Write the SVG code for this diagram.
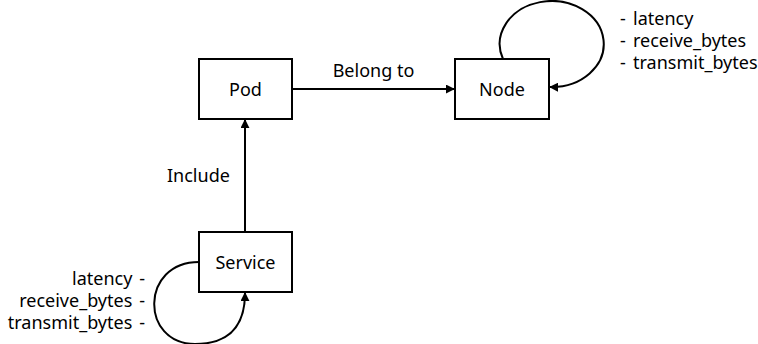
<svg xmlns="http://www.w3.org/2000/svg" width="758" height="344" viewBox="0 0 758 344">
<style>
.box{fill:#fff;stroke:#000;stroke-width:2}
.lbl{font-family:"Noto Sans","Liberation Sans",sans-serif;font-size:18px;fill:#000}
.mid{text-anchor:middle}
.end{text-anchor:end}
.edge{fill:none;stroke:#000;stroke-width:2}
</style>
<defs>
<marker id="ah" viewBox="0 0 10 10" refX="9" refY="5" markerWidth="4.5" markerHeight="4.5" orient="auto" markerUnits="strokeWidth">
<path d="M0,0 L10,5 L0,10 z" fill="#000"/>
</marker>
</defs>
<rect width="758" height="344" fill="#fff"/>
<g id="connectors">
<path class="edge" d="M292,89 L454,89" marker-end="url(#ah)"/>
<path class="edge" d="M245,232 L245,120" marker-end="url(#ah)"/>
<path class="edge" d="M503,59 A52,43 0 1 1 550,87" marker-end="url(#ah)"/>
<path class="edge" d="M199,262 C140,262 140,344 195,344 C235,344 245,320 245,293" marker-end="url(#ah)"/>
<text class="lbl mid" x="373.5" y="77">Belong to</text>
<text class="lbl" x="167" y="182">Include</text>
</g>
<g id="pod">
<rect class="box" x="199" y="59" width="93" height="60"/>
<text class="lbl mid" x="245.5" y="95.5">Pod</text>
</g>
<g id="node">
<rect class="box" x="455" y="59" width="94" height="60"/>
<text class="lbl mid" x="502" y="95.5">Node</text>
</g>
<g id="service">
<rect class="box" x="199" y="232" width="93" height="60"/>
<text class="lbl mid" x="245.5" y="268.5">Service</text>
</g>
<g id="node-metrics">
<text class="lbl" x="620" y="25">- <tspan x="633">latency</tspan></text>
<text class="lbl" x="620" y="47">- <tspan x="633">receive_bytes</tspan></text>
<text class="lbl" x="620" y="69">- <tspan x="633">transmit_bytes</tspan></text>
</g>
<g id="service-metrics">
<text class="lbl end" x="137" y="285">latency <tspan x="145">-</tspan></text>
<text class="lbl end" x="137" y="307">receive_bytes <tspan x="145">-</tspan></text>
<text class="lbl end" x="137" y="329">transmit_bytes <tspan x="145">-</tspan></text>
</g>
</svg>
